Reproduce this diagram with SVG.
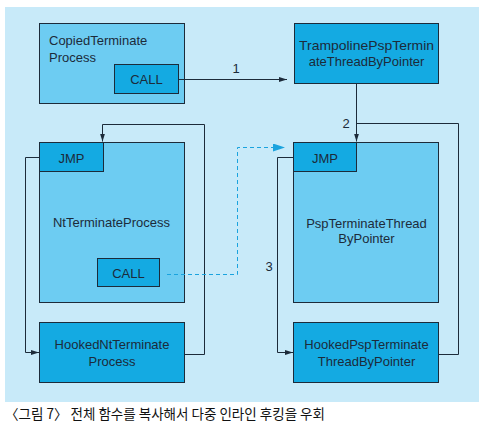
<svg xmlns="http://www.w3.org/2000/svg" width="485" height="428" viewBox="0 0 485 428">
<style>
.light{fill:#6dccf2;stroke:#1c2b3a;stroke-width:1}
.dark{fill:#14aae2;stroke:#1c2b3a;stroke-width:1}
text{font-family:"Liberation Sans",Arial,sans-serif;font-size:13px;fill:#1c2b3a}
.c{text-anchor:middle}
.ln{fill:none;stroke:#1c2b3a;stroke-width:1}
.dash{fill:none;stroke:#1aa3de;stroke-width:1;stroke-dasharray:4 3}
</style>
<defs>
<marker id="ah" markerWidth="8" markerHeight="6" refX="8" refY="3" orient="auto" markerUnits="userSpaceOnUse">
<path d="M0,0.5 L8,3 L0,5.5 Z" fill="#1c2b3a"/>
</marker>
<marker id="bh" markerWidth="12" markerHeight="8" refX="12" refY="4" orient="auto" markerUnits="userSpaceOnUse">
<path d="M0,0 L12,4 L0,8 Z" fill="#1aa3de"/>
</marker>
</defs>
<rect x="5" y="7" width="474" height="395" fill="#c8eaf9"/>

<g id="copied">
<rect class="light" x="39.5" y="23.5" width="145" height="80"/>
<text x="49" y="45">CopiedTerminate</text>
<text x="49" y="62">Process</text>
</g>
<g id="copied-call">
<rect class="dark" x="114.5" y="64.5" width="64" height="29"/>
<text class="c" x="146.5" y="84">CALL</text>
</g>
<g id="trampoline">
<rect class="dark" x="294.5" y="23.5" width="144" height="60"/>
<text class="c" x="366.5" y="50" textLength="135" lengthAdjust="spacingAndGlyphs">TrampolinePspTermin</text>
<text class="c" x="366.5" y="66">ateThreadByPointer</text>
</g>
<g id="nt">
<rect class="light" x="39.5" y="142.5" width="145" height="160"/>
<text class="c" x="111.5" y="227">NtTerminateProcess</text>
</g>
<g id="nt-jmp">
<rect class="dark" x="39.5" y="142.5" width="64" height="29"/>
<text class="c" x="71.5" y="163">JMP</text>
</g>
<g id="nt-call">
<rect class="dark" x="97.5" y="258.5" width="62" height="28"/>
<text class="c" x="128.5" y="278">CALL</text>
</g>
<g id="psp">
<rect class="light" x="293.5" y="142.5" width="145" height="160"/>
<text class="c" x="366.5" y="228">PspTerminateThread</text>
<text class="c" x="366.5" y="243">ByPointer</text>
</g>
<g id="psp-jmp">
<rect class="dark" x="293.5" y="142.5" width="63" height="29"/>
<text class="c" x="325" y="163">JMP</text>
</g>
<g id="hooked-nt">
<rect class="dark" x="39.5" y="322.5" width="145" height="60"/>
<text class="c" x="112" y="349">HookedNtTerminate</text>
<text class="c" x="112" y="366">Process</text>
</g>
<g id="hooked-psp">
<rect class="dark" x="293.5" y="322.5" width="145" height="60"/>
<text class="c" x="366.5" y="349">HookedPspTerminate</text>
<text class="c" x="366.5" y="366">ThreadByPointer</text>
</g>

<g id="connectors">
<path class="ln" d="M178.5,79.5 H287" marker-end="url(#ah)"/>
<text class="c" x="236" y="73">1</text>
<path class="ln" d="M356.5,83.5 V141.5" marker-end="url(#ah)"/>
<text class="c" x="346" y="128">2</text>
<path class="ln" d="M356.5,123.5 H458.5 V354.5 H438.5"/>
<path class="ln" d="M293.5,157.5 H277.5 V352.5 H293" marker-end="url(#ah)"/>
<text class="c" x="269" y="271">3</text>
<path class="ln" d="M184.5,354.5 H204.5 V124.5 H102.5 V141.5" marker-end="url(#ah)"/>
<path class="ln" d="M39.5,157.5 H25.5 V352.5 H39" marker-end="url(#ah)"/>
<path class="dash" d="M167,274.5 H237.5 V147.5 H285" marker-end="url(#bh)"/>
</g>

<text x="5" y="419" textLength="320" lengthAdjust="spacingAndGlyphs" style="font-family:'Noto Sans CJK KR','Noto Sans CJK SC',sans-serif;font-size:14px;fill:#111">〈그림 7〉 전체 함수를 복사해서 다중 인라인 후킹을 우회</text>
</svg>
